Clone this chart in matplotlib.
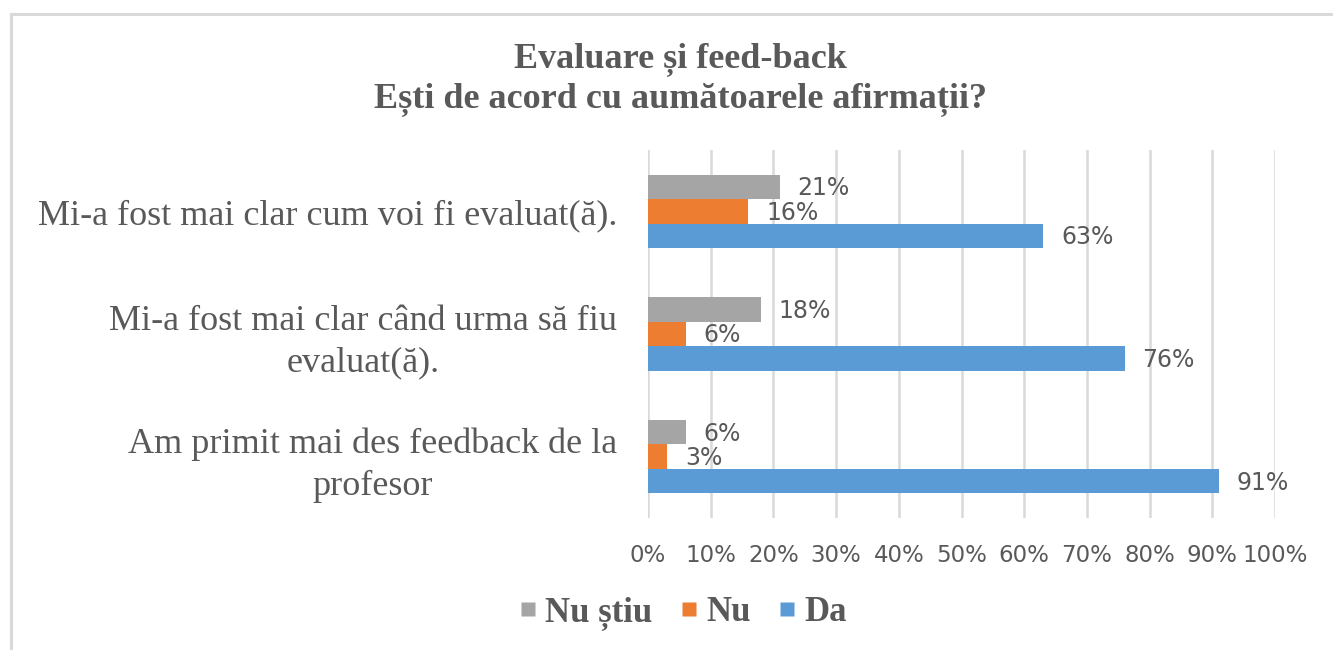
import matplotlib
matplotlib.use("Agg")
import matplotlib.pyplot as plt
from matplotlib.lines import Line2D
import numpy as np

categories = [
    "Mi-a fost mai clar cum voi fi evaluat(ă).",
    "Mi-a fost mai clar când urma să fiu\nevaluat(ă).",
    "Am primit mai des feedback de la\nprofesor",
]
series_names = ["Nu știu", "Nu", "Da"]
nu_stiu = [21, 18, 6]
nu = [16, 6, 3]
da = [63, 76, 91]
tick_labels = ["0%", "10%", "20%", "30%", "40%", "50%", "60%", "70%", "80%", "90%", "100%"]

colors = ["#A5A5A5", "#ED7D31", "#5B9BD5"]
text_color = "#595959"
grid_color = "#D9D9D9"

W, H = 1333, 650
fig = plt.figure(figsize=(W / 100, H / 100), dpi=100)
ax = fig.add_axes([648 / W, (H - 518) / H, (1275 - 648) / W, (518 - 150) / H])

y = np.arange(len(categories))
bh = 0.2
offsets = [-bh, 0, bh]
for vals, off, col, name in zip([nu_stiu, nu, da], offsets, colors, series_names):
    vals_frac = np.array(vals) / 100.0
    bars = ax.barh(y + off, vals_frac, height=bh, color=col, label=name, zorder=3)
    for b, v in zip(bars, vals):
        ax.annotate(f"{v}%", xy=(b.get_width(), b.get_y() + b.get_height() / 2),
                    xytext=(13, -1), textcoords="offset points", va="center", ha="left",
                    fontsize=17, color=text_color, family="DejaVu Sans")

ax.set_xlim(0, 1)
ax.set_ylim(len(categories) - 0.5, -0.5)
ax.set_xticks(np.linspace(0, 1, len(tick_labels)))
ax.set_xticklabels(tick_labels, fontsize=16.5, color=text_color, family="DejaVu Sans")
ax.set_yticks(y)
ax.set_yticklabels(categories, fontsize=26, color=text_color, family="Liberation Serif")
for lbl in ax.get_yticklabels():
    lbl.set_multialignment("center")
    lbl.set_linespacing(1.35)
ax.tick_params(axis="x", length=0, pad=19)
ax.tick_params(axis="y", length=0, pad=22)
ax.grid(axis="x", color=grid_color, linewidth=1.8, zorder=0)
ax.grid(axis="y", visible=False)
for s in ax.spines.values():
    s.set_visible(False)

fig.text(680 / W, 1 - 79 / H, "Evaluare și feed-back\nEști de acord cu aumătoarele afirmații?",
         ha="center", va="center", fontsize=26, fontweight="bold", color=text_color,
         family="Liberation Serif", linespacing=1.22)

handles = [Line2D([], [], linestyle="none", marker="s", markersize=10, markerfacecolor=c,
                  markeredgecolor="none") for c in colors]
leg = fig.legend(handles, series_names, loc="center", bbox_to_anchor=(683 / W, 1 - 613 / H),
                 ncol=3, frameon=False, handlelength=0.5,
                 handletextpad=0.25, columnspacing=0.8,
                 prop={"family": "Liberation Serif", "weight": "bold", "size": 25})
for t in leg.get_texts():
    t.set_color(text_color)

# outer frame (top and left edges visible)
fig.add_artist(Line2D([10.5 / W, 10.5 / W], [0, 1 - 13.5 / H], color=grid_color, linewidth=2.2,
                      transform=fig.transFigure))
fig.add_artist(Line2D([10.5 / W, 1], [1 - 13.5 / H, 1 - 13.5 / H], color=grid_color, linewidth=2.2,
                      transform=fig.transFigure))

fig.savefig("out.png", dpi=100)
